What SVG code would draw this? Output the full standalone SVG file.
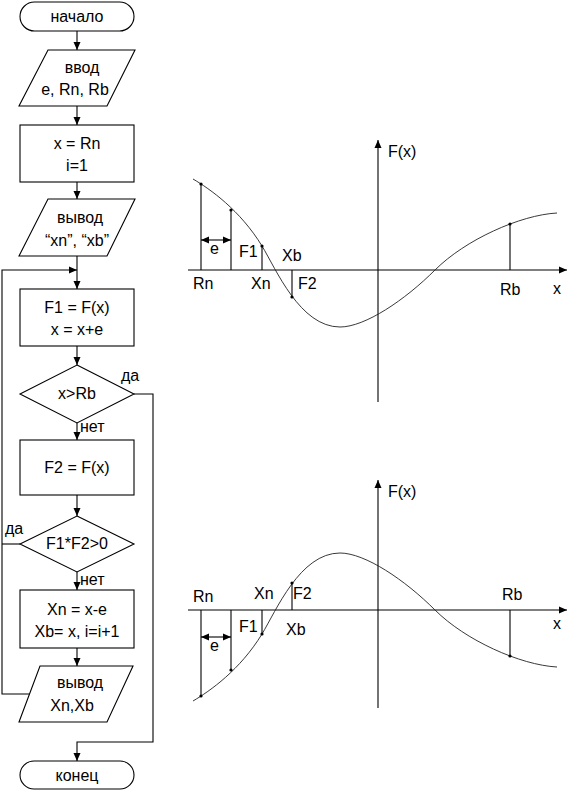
<svg xmlns="http://www.w3.org/2000/svg" width="568" height="791" viewBox="0 0 568 791">
<defs>
<marker id="ah" markerUnits="userSpaceOnUse" markerWidth="8" markerHeight="8" refX="8" refY="4" orient="auto"><path d="M0,0.5 L8,4 L0,7.5 z" fill="#000"/></marker>
<marker id="ahs" markerUnits="userSpaceOnUse" markerWidth="8" markerHeight="8" refX="8" refY="4" orient="auto-start-reverse"><path d="M0,0.5 L8,4 L0,7.5 z" fill="#000"/></marker>
<g id="dots"></g>
</defs>
<style>
.s{fill:#fff;stroke:#000;stroke-width:1.1}
.c{fill:none;stroke:#000;stroke-width:1.1}
.a{fill:none;stroke:#000;stroke-width:1.1;marker-end:url(#ah)}
.t{font-family:"Liberation Sans",Arial,sans-serif;font-size:16px;fill:#000}
.m{text-anchor:middle}
.cv{fill:none;stroke:#222;stroke-width:0.9}
.d{fill:#000}
</style>
<rect width="568" height="791" fill="#fff"/>

<g id="connectors">
<line class="a" x1="77" y1="31" x2="77" y2="50"/>
<line class="a" x1="77" y1="106" x2="77" y2="125"/>
<line class="a" x1="77" y1="182" x2="77" y2="199"/>
<line class="a" x1="77" y1="256" x2="77" y2="289"/>
<polyline class="a" points="29.5,694 2,694 2,270 77,270"/>
<line class="a" x1="77" y1="346" x2="77" y2="365"/>
<line class="a" x1="77" y1="423" x2="77" y2="440"/>
<line class="a" x1="77" y1="495" x2="77" y2="516"/>
<line class="c" x1="20" y1="544" x2="2" y2="544"/>
<line class="a" x1="77" y1="572" x2="77" y2="590"/>
<line class="a" x1="77" y1="648" x2="77" y2="666"/>
<polyline class="a" points="134,394 153,394 153,742 77,742 77,761"/>
<text class="t" x="121" y="381">да</text>
<text class="t" x="80" y="432">нет</text>
<text class="t" x="5" y="534">да</text>
<text class="t" x="80" y="585">нет</text>
</g>

<g id="start"><rect class="s" x="20" y="2" width="114" height="29" rx="14.5"/><text class="t m" x="77" y="22">начало</text></g>
<g id="input"><polygon class="s" points="48,50 135,50 107,106 19,106"/><text class="t m" x="82" y="73">ввод</text><text class="t m" x="75" y="95">e, Rn, Rb</text></g>
<g id="init"><rect class="s" x="20" y="125" width="114" height="57"/><text class="t m" x="77" y="149">x = Rn</text><text class="t m" x="77" y="171">i=1</text></g>
<g id="out1"><polygon class="s" points="48,199 135,199 107,256 19,256"/><text class="t m" x="80" y="223">вывод</text><text class="t m" x="77" y="246">“xn”, “xb”</text></g>
<g id="calc1"><rect class="s" x="20" y="289" width="114" height="57"/><text class="t m" x="77" y="313">F1 = F(x)</text><text class="t m" x="77" y="335">x = x+e</text></g>
<g id="cond1"><polygon class="s" points="77,365 134,394 77,423 20,394"/><text class="t m" x="77" y="399">x&gt;Rb</text></g>
<g id="calc2"><rect class="s" x="20" y="440" width="114" height="55"/><text class="t m" x="77" y="473">F2 = F(x)</text></g>
<g id="cond2"><polygon class="s" points="77,516 134,544 77,572 20,544"/><text class="t m" x="77" y="549">F1*F2&gt;0</text></g>
<g id="calc3"><rect class="s" x="20" y="590" width="114" height="58"/><text class="t m" x="77" y="615">Xn = x-e</text><text class="t m" x="77" y="637">Xb= x, i=i+1</text></g>
<g id="out2"><polygon class="s" points="40,666 133,666 107,722 19,722"/><text class="t m" x="80" y="688">вывод</text><text class="t m" x="72" y="711">Xn,Xb</text></g>
<g id="end"><rect class="s" x="20" y="761" width="114" height="28" rx="14"/><text class="t m" x="77" y="781">конец</text></g>

<g id="graph1">
<line class="a" x1="188" y1="270" x2="567" y2="270"/>
<line class="a" x1="378" y1="402" x2="378" y2="140"/>
<g id="g1curve">
<path class="cv" d="M193,179 C210,189 240,210 262,246 C276,269 300,327 340,327 C365,327 405,300 435,270 C465,240 520,215 557,213"/>
<line class="c" x1="201" y1="184" x2="201" y2="270"/>
<line class="c" x1="231" y1="210" x2="231" y2="270"/>
<line class="c" x1="262" y1="246" x2="262" y2="270"/>
<line class="c" x1="292" y1="270" x2="292" y2="297"/>
<line class="c" x1="510" y1="224" x2="510" y2="270"/>
<circle class="d" cx="201" cy="184" r="1.6"/>
<circle class="d" cx="231" cy="210" r="1.6"/>
<circle class="d" cx="262" cy="246" r="1.6"/>
<circle class="d" cx="292" cy="297" r="1.6"/>
<circle class="d" cx="510" cy="224" r="1.6"/>
</g>
<line class="c" x1="201" y1="240" x2="231" y2="240" style="marker-start:url(#ahs);marker-end:url(#ah)"/>
<text class="t" x="388" y="157">F(x)</text>
<text class="t" x="210" y="254">e</text>
<text class="t" x="239" y="257">F1</text>
<text class="t" x="282" y="261">Xb</text>
<text class="t" x="193" y="289">Rn</text>
<text class="t" x="251" y="289">Xn</text>
<text class="t" x="298" y="289">F2</text>
<text class="t" x="500" y="295">Rb</text>
<text class="t" x="553" y="294">x</text>
</g>

<g id="graph2">
<line class="a" x1="188" y1="610" x2="567" y2="610"/>
<line class="a" x1="378" y1="708" x2="378" y2="480"/>
<use href="#g1curve" transform="translate(0,880) scale(1,-1)"/>
<line class="c" x1="201" y1="637" x2="231" y2="637" style="marker-start:url(#ahs);marker-end:url(#ah)"/>
<text class="t" x="388" y="497">F(x)</text>
<text class="t" x="193" y="602">Rn</text>
<text class="t" x="254" y="599">Xn</text>
<text class="t" x="293" y="599">F2</text>
<text class="t" x="502" y="600">Rb</text>
<text class="t" x="239" y="632">F1</text>
<text class="t" x="286" y="635">Xb</text>
<text class="t" x="553" y="629">x</text>
<text class="t" x="210" y="651">e</text>
</g>
</svg>
